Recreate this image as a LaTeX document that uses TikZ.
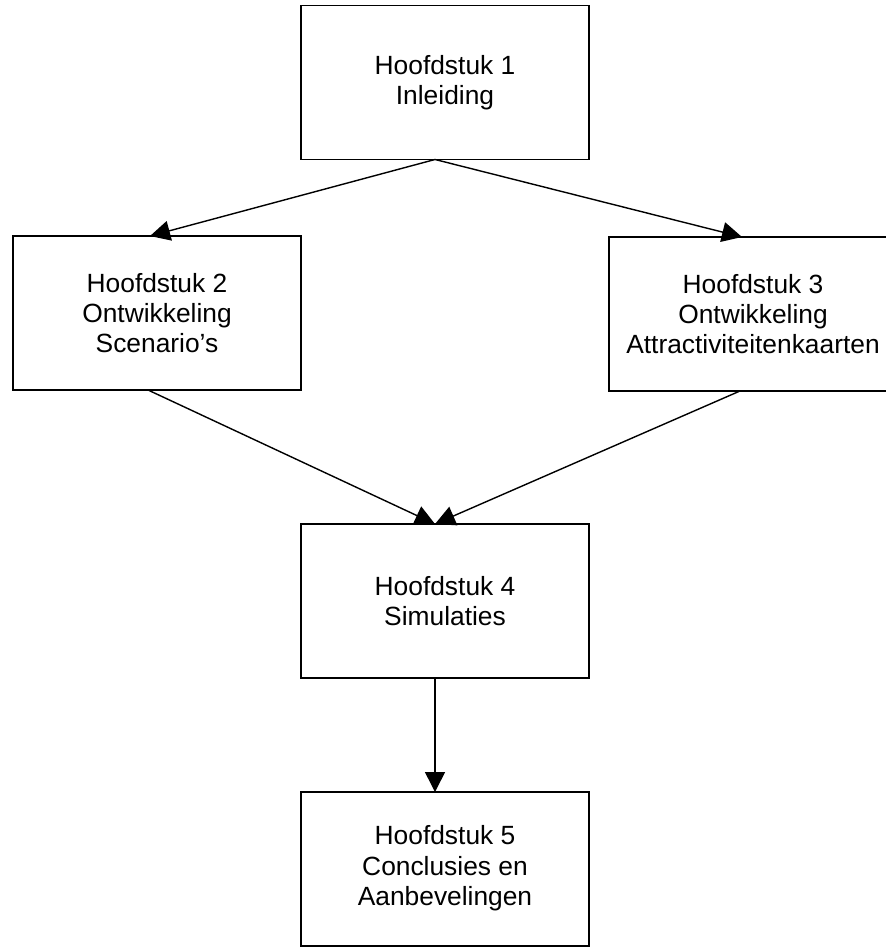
\documentclass[tikz,border=0pt]{standalone}
\usepackage{fontspec}
\setmainfont{Liberation Sans}
\usepackage{tikz}
\usetikzlibrary{arrows.meta}

\begin{document}
\begin{tikzpicture}[
		x=0.02cm, y=-0.02cm,
		chapter/.style={draw=black, line width=1.1pt, fill=white,
			minimum width=5.76cm, minimum height=3.08cm,
			inner sep=0pt, outer sep=0pt, align=center,
			font=\fontsize{15}{17.2}\selectfont},
		link/.style={color=black, line width=0.8pt,
			-{Triangle[length=0.4cm, width=0.4cm]}}
	]
	\useasboundingbox (0,0) rectangle (886,947);

	\node[chapter] (h1) at (445,82.5)
		{Hoofdstuk 1\\Inleiding};
	\node[chapter] (h2) at (157,313)
		{Hoofdstuk 2\\Ontwikkeling\\Scenario’s};
	\node[chapter] (h3) at (753,314)
		{Hoofdstuk 3\\Ontwikkeling\\Attractiviteitenkaarten};
	\node[chapter] (h4) at (445,601)
		{Hoofdstuk 4\\Simulaties};
	\node[chapter] (h5) at (445,869)
		{\raisebox{0.25cm}{\begin{tabular}{@{}c@{}}Hoofdstuk 5\\Conclusies en\\Aanbevelingen\end{tabular}}};

	\draw[link]
		([xshift=-0.2cm]h1.south) -- ([xshift=-0.14cm]h2.north);
	\draw[link]
		([xshift=-0.2cm]h1.south) -- ([xshift=-0.22cm]h3.north);
	\draw[link]
		([xshift=-0.18cm]h2.south) -- ([xshift=-0.2cm]h4.north);
	\draw[link]
		([xshift=-0.26cm]h3.south) -- ([xshift=-0.2cm]h4.north);
	\draw[link]
		([xshift=-0.2cm]h4.south) -- ([xshift=-0.2cm]h5.north);
\end{tikzpicture}
\end{document}
